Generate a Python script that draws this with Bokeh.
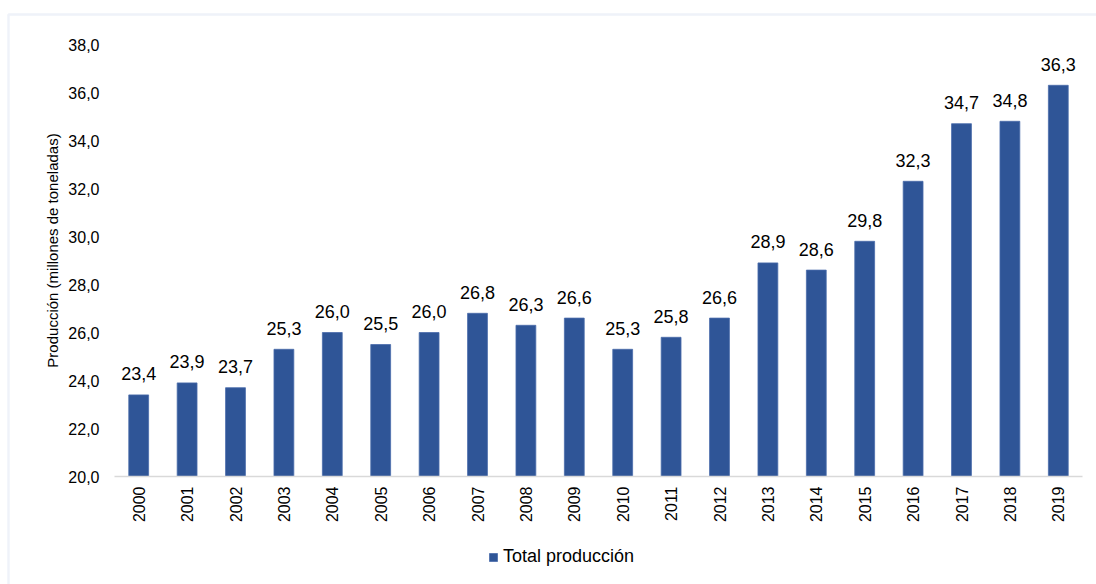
import math
from bokeh.plotting import figure
from bokeh.models import (ColumnDataSource, Range1d, FixedTicker, CustomJSTickFormatter,
                          Legend, LegendItem, BoxAnnotation)
from bokeh.core.properties import value
from bokeh.embed import file_html
from bokeh.resources import INLINE

years = ["2000", "2001", "2002", "2003", "2004", "2005", "2006", "2007", "2008", "2009",
         "2010", "2011", "2012", "2013", "2014", "2015", "2016", "2017", "2018", "2019"]
produccion = [23.4, 23.9, 23.7, 25.3, 26.0, 25.5, 26.0, 26.8, 26.3, 26.6,
              25.3, 25.8, 26.6, 28.9, 28.6, 29.8, 32.3, 34.7, 34.8, 36.3]
y_ticks = [20, 22, 24, 26, 28, 30, 32, 34, 36, 38]
series_name = "Total producción"
y_title = "Producción (millones de toneladas)"

pos = list(range(len(years)))
labels = [f"{v:.1f}".replace(".", ",") for v in produccion]
src = ColumnDataSource(dict(x=pos, top=produccion, lab=labels))

FONT = "Liberation Sans"
BAR = "#2F5597"
W, H = 1096, 584
# frame covers the whole canvas; plot area 114..1082 px horizontally, 44..476 px vertically
px_cat = (1082 - 114) / len(years)
px_unit = (476 - 44) / (y_ticks[-1] - y_ticks[0])
x0 = -0.5 - 114 / px_cat
x1 = len(years) - 0.5 + (W - 1082) / px_cat
y0 = y_ticks[0] - (H - 476) / px_unit
y1 = y_ticks[-1] + 44 / px_unit

p = figure(width=W, height=H, x_range=Range1d(x0, x1), y_range=Range1d(y0, y1),
           output_backend="svg", toolbar_location=None,
           min_border_left=0, min_border_right=0, min_border_top=0, min_border_bottom=0)
p.outline_line_color = None
p.xgrid.grid_line_color = None
p.ygrid.grid_line_color = None

bars = p.vbar(x="x", top="top", bottom=y_ticks[0], width=0.41, source=src,
              fill_color=BAR, line_color="#4A6CAB", line_width=0.8)

p.text(x="x", y="top", text="lab", source=src, text_align="center",
       text_baseline="alphabetic", y_offset=-21, text_font=value(FONT),
       text_font_size="18px", text_color="#000000")

# y axis
ya = p.yaxis[0]
ya.fixed_location = -0.5
ya.bounds = (y_ticks[0], y_ticks[-1] + 0.8333)
ya.ticker = FixedTicker(ticks=y_ticks)
ya.formatter = CustomJSTickFormatter(code="return tick.toFixed(1).replace('.', ',');")
ya.axis_line_color = None
ya.major_tick_line_color = None
ya.minor_tick_line_color = None
ya.major_tick_out = 0
ya.major_tick_in = 0
ya.major_label_standoff = 15
ya.major_label_text_font = FONT
ya.major_label_text_font_size = "16px"
ya.major_label_text_color = "#000000"
ya.axis_label = y_title
ya.axis_label_text_font = FONT
ya.axis_label_text_font_size = "15px"
ya.axis_label_text_font_style = "normal"
ya.axis_label_text_color = "#000000"
ya.axis_label_standoff = 4

# x axis
xa = p.xaxis[0]
xa.fixed_location = y_ticks[0]
xa.bounds = (-0.5, len(years) - 0.5)
xa.ticker = FixedTicker(ticks=pos)
xa.major_label_overrides = {i: y for i, y in zip(pos, years)}
xa.axis_line_color = "#D9D9D9"
xa.axis_line_width = 1.5
xa.major_tick_line_color = None
xa.minor_tick_line_color = None
xa.major_tick_out = 0
xa.major_tick_in = 0
xa.major_label_orientation = math.pi / 2
xa.major_label_standoff = 10
xa.major_label_text_font = FONT
xa.major_label_text_font_size = "16px"
xa.major_label_text_color = "#000000"

legend = Legend(items=[LegendItem(label=series_name, renderers=[bars])],
                location=(488, 17), orientation="horizontal",
                glyph_width=10, glyph_height=10, label_standoff=5,
                padding=0, margin=0, spacing=0,
                border_line_color=None, background_fill_alpha=0,
                label_text_font=FONT, label_text_font_size="18px",
                label_text_color="#000000", label_height=20)
p.add_layout(legend, "center")

border = BoxAnnotation(left=8, right=1300, top=14, bottom=900,
                       left_units="canvas", right_units="canvas",
                       top_units="canvas", bottom_units="canvas",
                       fill_alpha=0, line_color="#C9D5EC", line_width=2.5, level="overlay")
p.add_layout(border)

open("out.html", "w").write(file_html(p, INLINE))
